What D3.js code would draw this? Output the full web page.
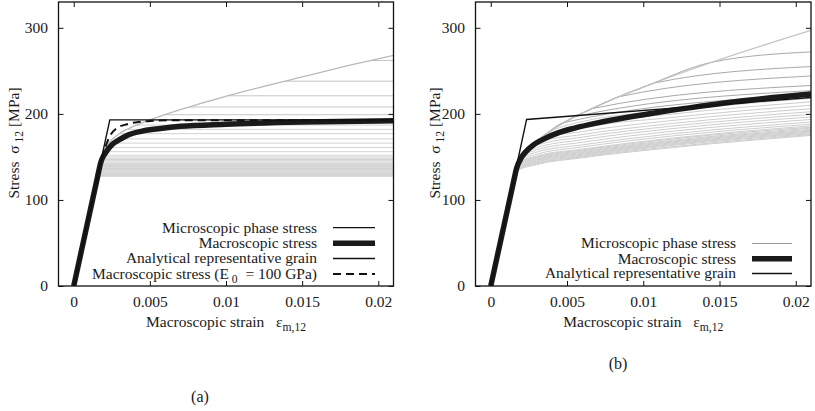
<!DOCTYPE html>
<html>
<head>
<meta charset="utf-8">
<script src="https://cdn.jsdelivr.net/npm/d3@7"></script>
<style>
  body { margin: 0; background: #fff; }
  text { font-family: "Liberation Serif", "Times New Roman", serif; fill: #1a1a1a; white-space: pre; }
</style>
</head>
<body>
<svg id="chart" width="815" height="411"></svg>
<script>
// ---- axis ticks ----
const strainTicks = [0, 0.005, 0.01, 0.015, 0.02];
const strainTickLabels = ["0", "0.005", "0.01", "0.015", "0.02"];
const stressTicks = [0, 100, 200, 300];
const stressTickLabels = ["0", "100", "200", "300"];

// ---- panel (a): perfectly plastic grains ----
// [macroscopic strain, shear stress in MPa]
const analyticalA = [[0, 0], [0.00237, 193], [0.021, 193]];
const macroA = [[0, 0], [0.0015, 121.5], [0.0018, 145], [0.0021, 155], [0.0025, 164], [0.003, 170],
  [0.0035, 175], [0.0045, 180], [0.0057, 183], [0.007, 185.5], [0.01, 188], [0.015, 190.5], [0.021, 192]];
const macroE100A = [[0, 0], [0.0015, 121.5], [0.0019, 152], [0.00215, 165], [0.0024, 175], [0.0028, 183],
  [0.0035, 188], [0.0043, 190.7], [0.0052, 192], [0.0065, 192.7], [0.021, 192.7]];
// stress path of the last grain still loading elastically
const envelopeA = [[0, 0], [0.0015, 121.5], [0.0019, 153], [0.0023, 166], [0.003, 177], [0.004, 186],
  [0.005, 193], [0.007, 205], [0.01, 220.5], [0.015, 243], [0.018, 256], [0.021, 268]];
// grain yield stresses (MPa); each grain stays at its yield stress after leaving the envelope
const grainYieldA = [262, 238, 221, 208, 199, 193, 187, 182, 177, 171, 166, 161, 156, 152, 150, 148.5,
  147, 145.5, 144, 142.5, 141, 140, 139, 137.5, 136.5, 135.5, 134.5, 133.5, 132.5, 131.5, 130.5,
  129.5, 128.5, 127.5];

// ---- panel (b): grains with hardening ----
const analyticalB = [[0, 0], [0.00235, 193.5], [0.021, 219]];
const macroB = [[0, 0], [0.0015, 121.5], [0.0017, 137], [0.002, 149], [0.0023, 156], [0.0028, 164],
  [0.0035, 171], [0.0045, 178.5], [0.0055, 183.5], [0.007, 189.5], [0.0088, 195.5], [0.0105, 200.5],
  [0.013, 207], [0.016, 214], [0.021, 223]];
const envelopeB = [[0, 0], [0.0015, 121.5], [0.0018, 146], [0.0025, 161], [0.0035, 175], [0.005, 192],
  [0.0065, 205], [0.008, 217], [0.01, 231], [0.0145, 260], [0.021, 297]];
// grain stress after yield, sampled at these strains
const grainColsB = [0.003, 0.006, 0.012, 0.021];
// [yield stress, stress at each of grainColsB] (null = not yet yielded there / straight run)
const grainRowsB = [
  [260, null, null, null, 272],
  [236, null, null, null, 255],
  [220, null, null, null, 244],
  [206, null, null, null, 233],
  [197, null, null, null, 227],
  [190, null, null, null, 222],
  [176, null, 191, 204, 218],
  [170, null, 187, 200, 214],
  [165, null, 183, 196, 210],
  [161, 169.5, 179.5, 192.5, 206],
  [157, 166.5, 176, 189, 202.5],
  [154, 163.5, 173, 186, 199.5],
  [151, 160.5, 170, 183, 196.5],
  [148.5, 158, 167, 180, 193.5],
  [146, 155.5, 164, 177, 190.5],
  [144, 153, 161.5, 174.5, 188],
  [142, 151, 159, 172, 186],
  [141, 150, 158, 171, 184.5],
  [140, 149, 157, 169.5, 183.5],
  [139, 148, 156, 168.5, 182],
  [138, 147, 155, 167.5, 181],
  [137, 146, 154, 166.5, 180],
  [136.5, 145, 153, 165.5, 179],
  [135.5, 144, 152, 164.5, 178],
  [135, 143, 151, 163.5, 177],
  [134, 142, 150, 162, 176],
  [133, 141, 149, 161, 175]
];

const FONT = 15.5;
const svg = d3.select("#chart");

// point where a grain of yield stress tau leaves a loading path
function departure(path, tau) {
  for (let i = 0; i < path.length - 1; i++) {
    const [x0, y0] = path[i], [x1, y1] = path[i + 1];
    if (tau >= y0 && tau <= y1) {
      return [x0 + (tau - y0) / (y1 - y0) * (x1 - x0), tau];
    }
  }
  return path[path.length - 1];
}

// text with subscripts: parts = [[string, isSub], ...]
function richText(g, x, y, parts, opts = {}) {
  const size = opts.size || FONT;
  const t = g.append("text").attr("x", x).attr("y", y)
    .attr("font-size", size)
    .attr("text-anchor", opts.anchor || "start");
  if (opts.transform) t.attr("transform", opts.transform);
  let shifted = false;
  parts.forEach(([s, sub]) => {
    const ts = t.append("tspan").text(s);
    if (sub && !shifted) { ts.attr("font-size", size * 0.75).attr("dy", 4); shifted = true; }
    else if (!sub && shifted) { ts.attr("dy", -4); shifted = false; }
    else if (sub) ts.attr("font-size", size * 0.75);
  });
  return t;
}

const panels = [
  {
    key: "a", xr: [58.5, 393.5], yr: [286, 2],
    yTitleX: 19, xTitleY: 327,
    grainMode: "flat", envelope: envelopeA, grainYield: grainYieldA,
    envelopeColor: "#b9b9b9", upperColor: "#c6c6c6", bandColor: "#d2d2d2",
    macro: macroA, analytical: analyticalA, dashed: macroE100A,
    legend: { textX: 317, x0: 333, x1: 375, ys: [227.7, 243.3, 258.5, 274] },
    label: { text: "(a)", x: 200, y: 402 }
  },
  {
    key: "b", xr: [475.5, 811], yr: [286, 2],
    yTitleX: 440, xTitleY: 327,
    grainMode: "hardening", envelope: envelopeB, grainRows: grainRowsB,
    envelopeColor: "#c2c2c2", upperColor: "#a9a9a9", bandColor: "#cdcdcd",
    macro: macroB, analytical: analyticalB, dashed: null,
    legend: { textX: 736, x0: 752, x1: 792, ys: [243.5, 258.7, 273.5] },
    label: { text: "(b)", x: 618, y: 368.5 }
  }
];

panels.forEach(p => {
  const x = d3.scaleLinear().domain([-0.001, 0.021]).range(p.xr);
  const y = d3.scaleLinear().domain([0, 330]).range(p.yr);
  const g = svg.append("g").attr("class", "panel-" + p.key);

  const clipId = "clip-" + p.key;
  svg.append("clipPath").attr("id", clipId).append("rect")
    .attr("x", p.xr[0]).attr("y", p.yr[1])
    .attr("width", p.xr[1] - p.xr[0]).attr("height", p.yr[0] - p.yr[1]);

  const plot = g.append("g").attr("clip-path", `url(#${clipId})`);
  const straight = d3.line().x(d => x(d[0])).y(d => y(d[1]));
  const smooth = d3.line().x(d => x(d[0])).y(d => y(d[1])).curve(d3.curveMonotoneX);

  // microscopic (grain) stresses
  if (p.grainMode === "flat") {
    p.grainYield.forEach(tau => {
      const dep = departure(p.envelope, tau);
      plot.append("path").attr("d", straight([dep, [0.021, tau]]))
        .attr("fill", "none")
        .attr("stroke", tau > 195 ? p.upperColor : p.bandColor)
        .attr("stroke-width", 1);
    });
  } else {
    p.grainRows.forEach(row => {
      const tau = row[0];
      const dep = departure(p.envelope, tau);
      const pts = p.envelope.filter(d => d[1] < tau - 0.5 && d[0] < dep[0] - 0.0001);
      pts.push(dep);
      grainColsB.forEach((c, i) => {
        const v = row[i + 1];
        if (v != null && c > dep[0] + 0.0003) pts.push([c, v]);
      });
      plot.append("path").attr("d", smooth(pts))
        .attr("fill", "none")
        .attr("stroke", tau > 185 ? p.upperColor : p.bandColor)
        .attr("stroke-width", 1);
    });
  }
  plot.append("path").attr("d", smooth(p.envelope))
    .attr("fill", "none").attr("stroke", p.envelopeColor).attr("stroke-width", 1.3);

  // macroscopic stress
  plot.append("path").attr("d", smooth(p.macro))
    .attr("fill", "none").attr("stroke", "#1a1a1a").attr("stroke-width", 5.5)
    .attr("stroke-linejoin", "round");
  // analytical representative grain
  plot.append("path").attr("d", straight(p.analytical))
    .attr("fill", "none").attr("stroke", "#111").attr("stroke-width", 1.4);
  // macroscopic stress with E0 = 100 GPa
  if (p.dashed) {
    plot.append("path").attr("d", smooth(p.dashed))
      .attr("fill", "none").attr("stroke", "#111").attr("stroke-width", 2)
      .attr("stroke-dasharray", "8,5");
  }

  // axes with inward ticks on all four sides
  const [y0, y1] = p.yr;
  const bottom = g.append("g").attr("transform", `translate(0,${y0})`)
    .call(d3.axisBottom(x).tickValues(strainTicks)
      .tickFormat((d, i) => strainTickLabels[i]).tickSizeInner(-5).tickSizeOuter(0).tickPadding(10));
  const top = g.append("g").attr("transform", `translate(0,${y1})`)
    .call(d3.axisTop(x).tickValues(strainTicks).tickFormat("").tickSizeInner(-5).tickSizeOuter(0));
  const left = g.append("g").attr("transform", `translate(${p.xr[0]},0)`)
    .call(d3.axisLeft(y).tickValues(stressTicks)
      .tickFormat((d, i) => stressTickLabels[i]).tickSizeInner(-5).tickSizeOuter(0).tickPadding(10.5));
  const right = g.append("g").attr("transform", `translate(${p.xr[1]},0)`)
    .call(d3.axisRight(y).tickValues(stressTicks).tickFormat("").tickSizeInner(-5).tickSizeOuter(0));
  [bottom, top, left, right].forEach(a => {
    a.select(".domain").remove();
    a.selectAll(".tick line").attr("stroke", "#111").attr("stroke-width", 1);
    a.selectAll("text").attr("font-size", FONT).attr("fill", "#1a1a1a")
      .attr("font-family", '"Liberation Serif", "Times New Roman", serif');
  });

  g.append("rect").attr("x", p.xr[0]).attr("y", y1)
    .attr("width", p.xr[1] - p.xr[0]).attr("height", y0 - y1)
    .attr("fill", "none").attr("stroke", "#111").attr("stroke-width", 1.3);

  // axis titles
  const cx = (p.xr[0] + p.xr[1]) / 2;
  richText(g, cx, p.xTitleY, [["Macroscopic strain   ε", false], ["m,12", true]], { anchor: "middle" });
  const cy = 143;
  richText(g, p.yTitleX, cy, [["Stress  σ", false], [" 12", true], [" [MPa]", false]],
    { anchor: "middle", transform: `rotate(-90,${p.yTitleX},${cy})` });

  // legend
  const L = p.legend;
  const entries = [
    { parts: [["Microscopic phase stress", false]], color: p.key === "a" ? "#111" : "#9a9a9a", w: 1.2, dash: null },
    { parts: [["Macroscopic stress", false]], color: "#1a1a1a", w: 5.5, dash: null },
    { parts: [["Analytical representative grain", false]], color: "#111", w: 1.4, dash: null },
    { parts: [["Macroscopic stress (E", false], [" 0", true], ["  = 100 GPa)", false]], color: "#111", w: 2, dash: "8,5" }
  ];
  L.ys.forEach((ly, i) => {
    const e = entries[i];
    richText(g, L.textX, ly + 4.8, e.parts, { anchor: "end" });
    const ln = g.append("line").attr("x1", L.x0).attr("x2", L.x1).attr("y1", ly).attr("y2", ly)
      .attr("stroke", e.color).attr("stroke-width", e.w);
    if (e.dash) ln.attr("stroke-dasharray", e.dash);
  });

  // panel label
  g.append("text").attr("x", p.label.x).attr("y", p.label.y)
    .attr("text-anchor", "middle").attr("font-size", 16)
    .attr("font-family", '"DejaVu Serif", serif')
    .text(p.label.text);
});
</script>
</body>
</html>
